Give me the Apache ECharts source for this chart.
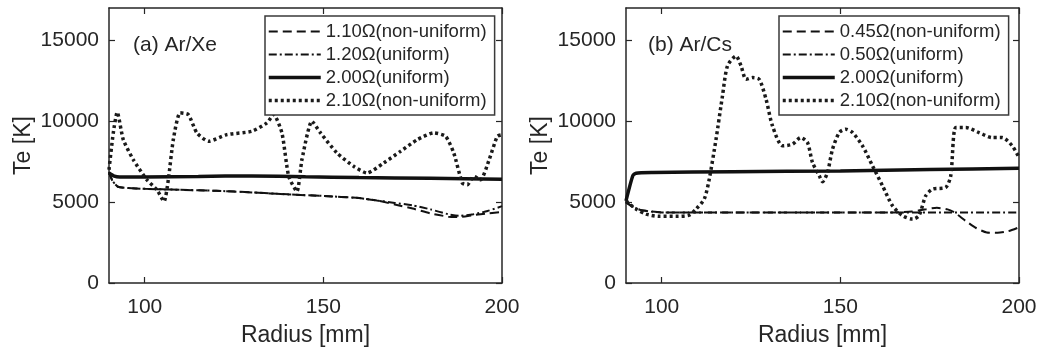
<!DOCTYPE html>
<html>
<head>
<meta charset="utf-8">
<script src="https://cdn.jsdelivr.net/npm/echarts@6/dist/echarts.min.js"></script>
<style>
  html, body { margin: 0; padding: 0; background: #fff; }
  #chart { width: 1039px; height: 349px; }
</style>
</head>
<body>
<div id="chart"></div>
<script>
// Electron temperature profiles along the radius, two seed mixtures.
const xTicks = [100, 150, 200];
const yTicks = [0, 5000, 10000, 15000];

// (a) Ar/Xe
const aDashR = [90, 91, 92.5, 95, 100, 110, 120, 130, 140, 150, 160, 165, 170, 175, 180, 185, 188, 192, 196, 200];
const aDashT = [6850, 6300, 5950, 5880, 5820, 5760, 5700, 5600, 5480, 5380, 5250, 5100, 4850, 4600, 4300, 4100, 4080, 4200, 4300, 4400];
const aDashDotR = [90, 91, 92.5, 95, 100, 110, 120, 130, 140, 150, 160, 165, 170, 175, 180, 185, 188, 192, 196, 200];
const aDashDotT = [6850, 6300, 5950, 5880, 5820, 5760, 5700, 5600, 5480, 5380, 5250, 5100, 4950, 4800, 4550, 4250, 4150, 4250, 4450, 4750];
const aSolidR = [90, 91.5, 93, 100, 115, 130, 145, 160, 180, 200];
const aSolidT = [6800, 6600, 6550, 6560, 6590, 6620, 6570, 6520, 6470, 6420];
const aDotR = [90, 91.2, 92.3, 94, 96.8, 100.6, 103.4, 105.4, 106.6, 108, 109.9, 112.2, 114.6, 117.9, 123, 130, 134.2, 136.1, 138.4, 140.3, 142.6, 144, 146.8, 149.2, 153.8, 158.5, 162.2, 166.9, 171.6, 176.3, 180.9, 184.2, 186.5, 188.9, 190.3, 192.1, 194, 196.4, 198.7, 200];
const aDotT = [7000, 9280, 10560, 8860, 7620, 6380, 5760, 5040, 6380, 8860, 10520, 10410, 9280, 8760, 9170, 9380, 9900, 10410, 9280, 6590, 5660, 7620, 10000, 9280, 8040, 7210, 6800, 7420, 8140, 8860, 9280, 9070, 8040, 6180, 6070, 6590, 6380, 7620, 9070, 9170];

// (b) Ar/Cs
const bDashR = [90, 92, 94, 97, 100, 120, 150, 165, 170, 174, 177, 180, 182, 185, 188, 191, 194, 197, 200];
const bDashT = [4980, 4700, 4520, 4420, 4360, 4360, 4360, 4360, 4420, 4560, 4650, 4550, 4350, 3850, 3400, 3120, 3100, 3200, 3440];
const bDashDotR = [90, 92, 94, 97, 100, 120, 150, 200];
const bDashDotT = [4980, 4700, 4520, 4420, 4360, 4360, 4360, 4360];
const bSolidR = [90, 91.9, 92.8, 97.5, 120, 150, 175, 200];
const bSolidT = [5080, 6630, 6790, 6830, 6880, 6930, 7010, 7100];
const bDotR = [90, 92.8, 95.6, 99.3, 104, 107.7, 109.6, 111.9, 113.3, 115.2, 117, 118.4, 120.8, 122.2, 123.6, 125.4, 127.3, 129.2, 131, 133.8, 136.6, 138.9, 140.8, 142.2, 144.1, 145, 146.4, 147.8, 149.7, 151.5, 153.4, 156.2, 159, 161.8, 164.6, 167.4, 170.2, 172, 173.9, 175.8, 179.5, 180.9, 182.3, 185.1, 188.8, 192.5, 195.3, 198.1, 200];
const bDotT = [5080, 4570, 4260, 4120, 4120, 4200, 4570, 5190, 6420, 8890, 11560, 13420, 14030, 13420, 12590, 12700, 12590, 11360, 9710, 8480, 8580, 8990, 8680, 7450, 6630, 6260, 6830, 8270, 9300, 9510, 9300, 8480, 7240, 6010, 4770, 4160, 3950, 4160, 5390, 5800, 5910, 6630, 9610, 9610, 9300, 8990, 8990, 8480, 7760];

const zip = (xs, ys) => xs.map((x, i) => [x, ys[i]]);

const ink = '#262626';
const font = 'Liberation Sans, Arial, sans-serif';

const styles = {
  dash: { color: '#111', width: 2, type: [9, 5] },
  dashDot: { color: '#111', width: 2, type: [8, 3, 2, 3] },
  solid: { color: '#111', width: 3.5, type: 'solid' },
  dot: { color: '#1a1a1a', width: 3.5, type: [3, 3], cap: 'butt' }
};

function mkSeries(name, style, xs, ys, gi, smooth) {
  return {
    name: name,
    type: 'line',
    xAxisIndex: gi * 2,
    yAxisIndex: gi * 2,
    data: zip(xs, ys),
    showSymbol: false,
    symbol: 'none',
    smooth: smooth || 0,
    lineStyle: Object.assign({}, style),
    itemStyle: { color: style.color },
    emphasis: { disabled: true },
    animation: false,
    z: 3
  };
}

function xAxes(gi) {
  const base = {
    gridIndex: gi, type: 'value', min: 90, max: 200,
    splitLine: { show: false },
    axisLine: { show: true, onZero: false, lineStyle: { color: ink, width: 1.5 } },
    axisTick: { show: true, inside: true, length: 6, customValues: xTicks, lineStyle: { color: ink, width: 1.2 } }
  };
  return [
    Object.assign({}, base, {
      position: 'bottom',
      name: 'Radius [mm]', nameLocation: 'middle', nameGap: 41,
      nameTextStyle: { fontFamily: font, fontSize: 23, color: ink },
      axisLabel: { show: true, customValues: xTicks, fontFamily: font, fontSize: 21, color: ink, margin: 14 }
    }),
    Object.assign({}, base, { position: 'top', axisLabel: { show: false } })
  ];
}

function yAxes(gi) {
  const base = {
    gridIndex: gi, type: 'value', min: 0, max: 17000,
    splitLine: { show: false },
    axisLine: { show: true, onZero: false, lineStyle: { color: ink, width: 1.5 } },
    axisTick: { show: true, inside: true, length: 6, customValues: yTicks, lineStyle: { color: ink, width: 1.2 } }
  };
  return [
    Object.assign({}, base, {
      position: 'left',
      name: 'Te [K]', nameLocation: 'middle', nameGap: 74,
      nameTextStyle: { fontFamily: font, fontSize: 23, color: ink },
      axisLabel: {
        show: true, customValues: yTicks, fontFamily: font, fontSize: 21, color: ink, margin: 10,
        formatter: v => String(v)
      }
    }),
    Object.assign({}, base, { position: 'right', axisLabel: { show: false } })
  ];
}

function mkLegend(names, left) {
  return {
    data: names,
    orient: 'vertical',
    left: left, top: 16,
    itemWidth: 52, itemHeight: 14, itemGap: 4,
    padding: [6, 8, 5, 2],
    borderColor: '#3a3a3a', borderWidth: 1.5,
    backgroundColor: '#fff',
    selectedMode: false,
    textStyle: { fontFamily: font, fontSize: 18.5, color: ink, lineHeight: 19 },
    itemStyle: { opacity: 0 },
    lineStyle: { type: 'inherit', width: 'inherit' }
  };
}

const aNames = ['1.10Ω(non-uniform)', '1.20Ω(uniform)', '2.00Ω(uniform)', '2.10Ω(non-uniform)'];
const bNames = ['0.45Ω(non-uniform)', '0.50Ω(uniform)', '2.00Ω(uniform)', '2.10Ω(non-uniform)'];

const option = {
  animation: false,
  backgroundColor: '#fff',
  grid: [
    { left: 109, top: 8, width: 393, height: 275, outerBoundsMode: 'none', containLabel: false },
    { left: 626, top: 8, width: 393, height: 275, outerBoundsMode: 'none', containLabel: false }
  ],
  xAxis: [].concat(xAxes(0), xAxes(1)),
  yAxis: [].concat(yAxes(0), yAxes(1)),
  title: [
    { text: '(a) Ar/Xe', left: 128, top: 30, textStyle: { fontFamily: font, fontSize: 21, fontWeight: 'normal', color: ink } },
    { text: '(b) Ar/Cs', left: 643, top: 30, textStyle: { fontFamily: font, fontSize: 21, fontWeight: 'normal', color: ink } }
  ],
  legend: [mkLegend(aNames, 265), mkLegend(bNames, 779)],
  series: [
    mkSeries(aNames[0], styles.dash, aDashR, aDashT, 0, 0.2),
    mkSeries(aNames[1], styles.dashDot, aDashDotR, aDashDotT, 0, 0.2),
    mkSeries(aNames[2], styles.solid, aSolidR, aSolidT, 0, 0.2),
    mkSeries(aNames[3], styles.dot, aDotR, aDotT, 0, 0.2),
    mkSeries(bNames[0], styles.dash, bDashR, bDashT, 1, 0.2),
    mkSeries(bNames[1], styles.dashDot, bDashDotR, bDashDotT, 1, 0.2),
    mkSeries(bNames[2], styles.solid, bSolidR, bSolidT, 1, 0.2),
    mkSeries(bNames[3], styles.dot, bDotR, bDotT, 1, 0.25)
  ]
};

const chart = echarts.init(document.getElementById('chart'), null, { renderer: 'canvas' });
chart.setOption(option);
</script>
</body>
</html>
